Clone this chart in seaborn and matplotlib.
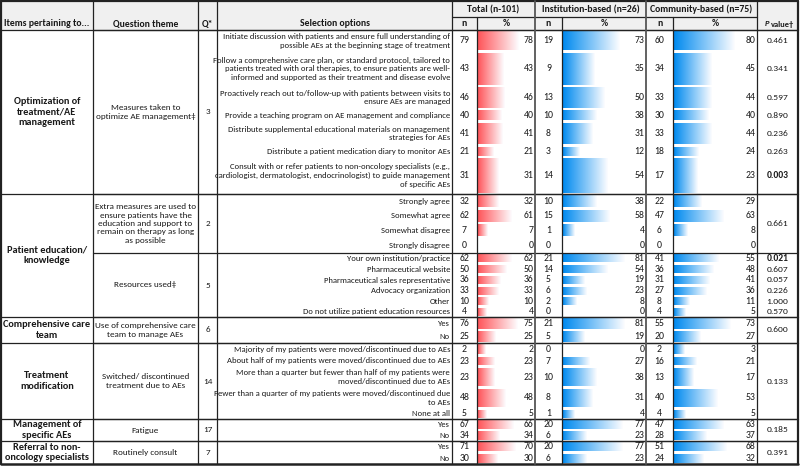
import numpy as np
import pandas as pd
import matplotlib
matplotlib.use("Agg")
import matplotlib.pyplot as plt
import seaborn as sns
from matplotlib.colors import LinearSegmentedColormap

sns.set_style("white")
plt.rcParams['font.family'] = ['Carlito', 'Liberation Sans Narrow', 'Open Sans', 'DejaVu Sans']

options = [
    "Initiate discussion with patients and ensure full understanding of\npossible AEs at the beginning stage of treatment",
    "Follow a comprehensive care plan, or standard protocol, tailored to\npatients treated with oral therapies, to ensure patients are well-\ninformed and supported as their treatment and disease evolve",
    "Proactively reach out to/follow-up with patients between visits to\nensure AEs are managed",
    "Provide a teaching program on AE management and compliance",
    "Distribute supplemental educational materials on management\nstrategies for AEs",
    "Distribute a patient medication diary to monitor AEs",
    "Consult with or refer patients to non-oncology specialists (e.g.,\ncardiologist, dermatologist, endocrinologist) to guide management\nof specific AEs",
    "Strongly agree", "Somewhat agree", "Somewhat disagree", "Strongly disagree",
    "Your own institution/practice", "Pharmaceutical website",
    "Pharmaceutical sales representative", "Advocacy organization", "Other",
    "Do not utilize patient education resources",
    "Yes", "No",
    "Majority of my patients were moved/discontinued due to AEs",
    "About half of my patients were moved/discontinued due to AEs",
    "More than a quarter but fewer than half of my patients were\nmoved/discontinued due to AEs",
    "Fewer than a quarter of my patients were moved/discontinued due\nto AEs",
    "None at all",
    "Yes", "No",
    "Yes", "No",
]
total_n = [79, 43, 46, 40, 41, 21, 31, 32, 62, 7, 0, 62, 50, 36, 33, 10, 4, 76, 25, 2, 23, 23, 48, 5, 67, 34, 71, 30]
total_pct = [78, 43, 46, 40, 41, 21, 31, 32, 61, 7, 0, 62, 50, 36, 33, 10, 4, 75, 25, 2, 23, 23, 48, 5, 66, 34, 70, 30]
inst_n = [19, 9, 13, 10, 8, 3, 14, 10, 15, 1, 0, 21, 14, 5, 6, 2, 0, 21, 5, 0, 7, 10, 8, 1, 20, 6, 20, 6]
inst_pct = [73, 35, 50, 38, 31, 12, 54, 38, 58, 4, 0, 81, 54, 19, 23, 8, 0, 81, 19, 0, 27, 38, 31, 4, 77, 23, 77, 23]
comm_n = [60, 34, 33, 30, 33, 18, 17, 22, 47, 6, 0, 41, 36, 31, 27, 8, 4, 55, 20, 2, 16, 13, 40, 4, 47, 28, 51, 24]
comm_pct = [80, 45, 44, 40, 44, 24, 23, 29, 63, 8, 0, 55, 48, 41, 36, 11, 5, 73, 27, 3, 21, 17, 53, 5, 63, 37, 68, 32]

p_values = ["0.461", "0.341", "0.597", "0.890", "0.236", "0.263", "0.003", "0.661",
            "0.021", "0.607", "0.057", "0.226", "1.000", "0.570", "0.600", "0.133", "0.185", "0.391"]
p_bold = ["0.003", "0.021"]

group_names = ["Optimization of\ntreatment/AE\nmanagement", "Patient education/\nknowledge",
               "Comprehensive care\nteam", "Treatment\nmodification",
               "Management of\nspecific AEs", "Referral to non-\noncology specialists"]
themes = ["Measures taken to\noptimize AE management‡",
          "Extra measures are used to\nensure patients have the\neducation and support to\nremain on therapy as long\nas possible",
          "Resources used‡", "Use of comprehensive care\nteam to manage AEs",
          "Switched/ discontinued\ntreatment due to AEs", "Fatigue", "Routinely consult"]
q_numbers = ["3", "2", "5", "6", "14", "17", "7"]
headers = ["Total (n-101)", "Institution-based (n=26)", "Community-based (n=75)"]

# ---- layout (pixels) ----
row_edges = [30, 51.5, 86, 109, 121.5, 145.5, 157, 194, 208.5, 223, 237.5, 253,
             263.5, 274.5, 285.5, 296, 306.5, 317, 330, 343, 355.5, 366.5, 387.5,
             408.5, 419, 430, 441, 452.5, 464]
group_spans = [(0, 7), (7, 17), (17, 19), (19, 24), (24, 26), (26, 28)]
theme_spans = [(0, 7), (7, 11), (11, 17), (17, 19), (19, 24), (24, 26), (26, 28)]
p_spans = [(i, i + 1) for i in range(7)] + [(7, 11)] + [(i, i + 1) for i in range(11, 17)] + \
          [(17, 19), (19, 24), (24, 26), (26, 28)]
W, H = 800, 467
top_line, hdr_mid, hdr_bot, bottom = 1, 17, 30, 464
x_items, x_theme, x_q, x_sel, x_tn, x_tp, x_in, x_ip, x_cn, x_cp, x_p, x_end = \
    1, 93, 198, 217, 452, 477, 535, 562, 646, 673, 757, 798

edges = np.array(row_edges)
centers = (edges[:-1] + edges[1:]) / 2
heights = np.diff(edges)

fig = plt.figure(figsize=(8, 4.67), dpi=100)
ax = fig.add_axes([0, 0, 1, 1])
ax.set_xlim(0, W)
ax.set_ylim(H, 0)
ax.axis('off')

ink = '#1a1a1a'

# header background
ax.add_patch(plt.Rectangle((x_items, top_line), x_end - x_items, hdr_bot - top_line,
                           facecolor='#f0f0f0', edgecolor='none', zorder=0))

line_kw = dict(color='#222222', lw=0.9, zorder=5)
# horizontal rules
ax.plot([x_items, x_end], [top_line, top_line], color='#222222', lw=1.6, zorder=5)
ax.plot([x_items, x_end], [bottom, bottom], color='#222222', lw=1.8, zorder=5)
ax.plot([x_tn, x_p], [hdr_mid, hdr_mid], **line_kw)
for a, b in group_spans:
    ax.plot([x_items, x_end], [edges[a], edges[a]], **line_kw)
for a, b in theme_spans:
    ax.plot([x_theme, x_end], [edges[a], edges[a]], **line_kw)
# vertical rules
ax.plot([x_items, x_items], [top_line, bottom], color='#222222', lw=1.6, zorder=5)
ax.plot([x_end, x_end], [top_line, bottom], color='#222222', lw=1.6, zorder=5)
for x in [x_theme, x_q, x_sel, x_tn, x_p]:
    ax.plot([x, x], [top_line, bottom], **line_kw)
for x in [x_in, x_cn]:
    ax.plot([x, x], [top_line, bottom], color='#555555', lw=1.3, zorder=5)
for x in [x_tp, x_ip, x_cp]:
    ax.plot([x, x], [hdr_mid, bottom], **line_kw)

fs_opt = 6.2
fs_num = 7.0
fs_p = 6.8
fs_theme = 6.6
hfs = 7.0
# header text
hy = (hdr_mid + hdr_bot) / 2 + 0.5
for x0, x1, lab in [(x_items, x_theme, "Items pertaining to..."), (x_theme, x_q, "Question theme"),
                    (x_q, x_sel, "Q*"), (x_sel, x_tn, "Selection options")]:
    ax.text((x0 + x1) / 2, hy, lab, ha='center', va='center', fontsize=hfs, fontweight='bold', color=ink)
for (x0, x1), lab in zip([(x_tn, x_in), (x_in, x_cn), (x_cn, x_p)], headers):
    ax.text((x0 + x1) / 2, (top_line + hdr_mid) / 2 + 0.5, lab, ha='center', va='center',
            fontsize=hfs, fontweight='bold', color=ink)
for x0, x1, lab in [(x_tn, x_tp, "n"), (x_tp, x_in, "%"), (x_in, x_ip, "n"), (x_ip, x_cn, "%"),
                    (x_cn, x_cp, "n"), (x_cp, x_p, "%")]:
    ax.text((x0 + x1) / 2, hy, lab, ha='center', va='center', fontsize=hfs, fontweight='bold', color=ink)
ax.text((x_p + x_end) / 2 - 8, hy, "P", ha='right', va='center', fontsize=6, fontweight='bold',
        fontstyle='italic', color=ink)
ax.text((x_p + x_end) / 2 - 7, hy, "value†", ha='left', va='center', fontsize=6, fontweight='bold', color=ink)

# left-hand merged cells
for (a, b), name in zip(group_spans, group_names):
    ax.text((x_items + x_theme) / 2, (edges[a] + edges[b]) / 2, name, ha='center', va='center',
            fontsize=7.4, fontweight='bold', linespacing=1.2, color=ink)
for (a, b), th, q in zip(theme_spans, themes, q_numbers):
    yc = (edges[a] + edges[b]) / 2
    ax.text((x_theme + x_q) / 2, yc, th, ha='center', va='center', fontsize=fs_theme,
            linespacing=1.23, color=ink)
    ax.text((x_q + x_sel) / 2, yc, q, ha='center', va='center', fontsize=fs_theme, color=ink)

# options and numbers
for i, opt in enumerate(options):
    y = centers[i]
    ax.text(x_tn - 2, y, opt, ha='right', va='center', fontsize=fs_opt, multialignment='right',
            linespacing=1.27, color=ink)
    ax.text((x_tn + x_tp) / 2, y, str(total_n[i]), ha='center', va='center', fontsize=fs_num, color=ink)
    ax.text(x_in - 1.5, y, str(total_pct[i]), ha='right', va='center', fontsize=fs_num, color=ink)
    ax.text((x_in + x_ip) / 2, y, str(inst_n[i]), ha='center', va='center', fontsize=fs_num, color=ink)
    ax.text(x_cn - 1.5, y, str(inst_pct[i]), ha='right', va='center', fontsize=fs_num, color=ink)
    ax.text((x_cn + x_cp) / 2, y, str(comm_n[i]), ha='center', va='center', fontsize=fs_num, color=ink)
    ax.text(x_p - 1.5, y, str(comm_pct[i]), ha='right', va='center', fontsize=fs_num, color=ink)

for (a, b), p in zip(p_spans, p_values):
    ax.text((x_p + x_end) / 2, (edges[a] + edges[b]) / 2, p, ha='center', va='center', fontsize=fs_p,
            fontweight='bold' if p in p_bold else 'normal', color=ink)


# ---- gradient data bars, one axes per % column ----
def bar_column(x0, x1, values, color, px_per_unit, base_px):
    offset = base_px / px_per_unit
    bax = fig.add_axes([x0 / W, 0, (x1 - x0) / W, 1])
    xmin = -offset - 1.0 / px_per_unit
    bax.set_xlim(xmin, xmin + (x1 - x0) / px_per_unit)
    bax.set_ylim(H, 0)
    bax.patch.set_alpha(0)
    bax.axis('off')
    df = pd.DataFrame({'y': centers, 'v': values, 'h': heights - 2.6})
    df = df[df['v'] > 0]
    bars = bax.barh(df['y'], df['v'] + offset, left=-offset, height=df['h'],
                    color='none', edgecolor='none')
    cmap = LinearSegmentedColormap.from_list('g', [color, '#fdfdff'])
    grad = np.linspace(0, 1, 256).reshape(1, -1)
    for patch in bars.patches:
        bx, by = patch.get_x(), patch.get_y()
        bw, bh = patch.get_width(), patch.get_height()
        im = bax.imshow(grad, extent=[bx, bx + bw, by, by + bh], cmap=cmap, aspect='auto',
                        interpolation='bilinear', zorder=2)
        im.set_clip_path(patch)
    bax.set_xlim(xmin, xmin + (x1 - x0) / px_per_unit)
    bax.set_ylim(H, 0)
    return bax


red = '#ff555a'
blue = '#008aef'
bar_column(x_tp, x_in, total_pct, red, 0.436, 6.5)
bar_column(x_ip, x_cn, inst_pct, blue, 0.655, 8.7)
bar_column(x_cp, x_p, comm_pct, blue, 0.653, 8.5)

# put the number labels above the bars
for t in ax.texts:
    t.set_zorder(10)
ax.set_zorder(3)
ax.patch.set_alpha(0)

fig.savefig('out.png', dpi=100, facecolor='white')
